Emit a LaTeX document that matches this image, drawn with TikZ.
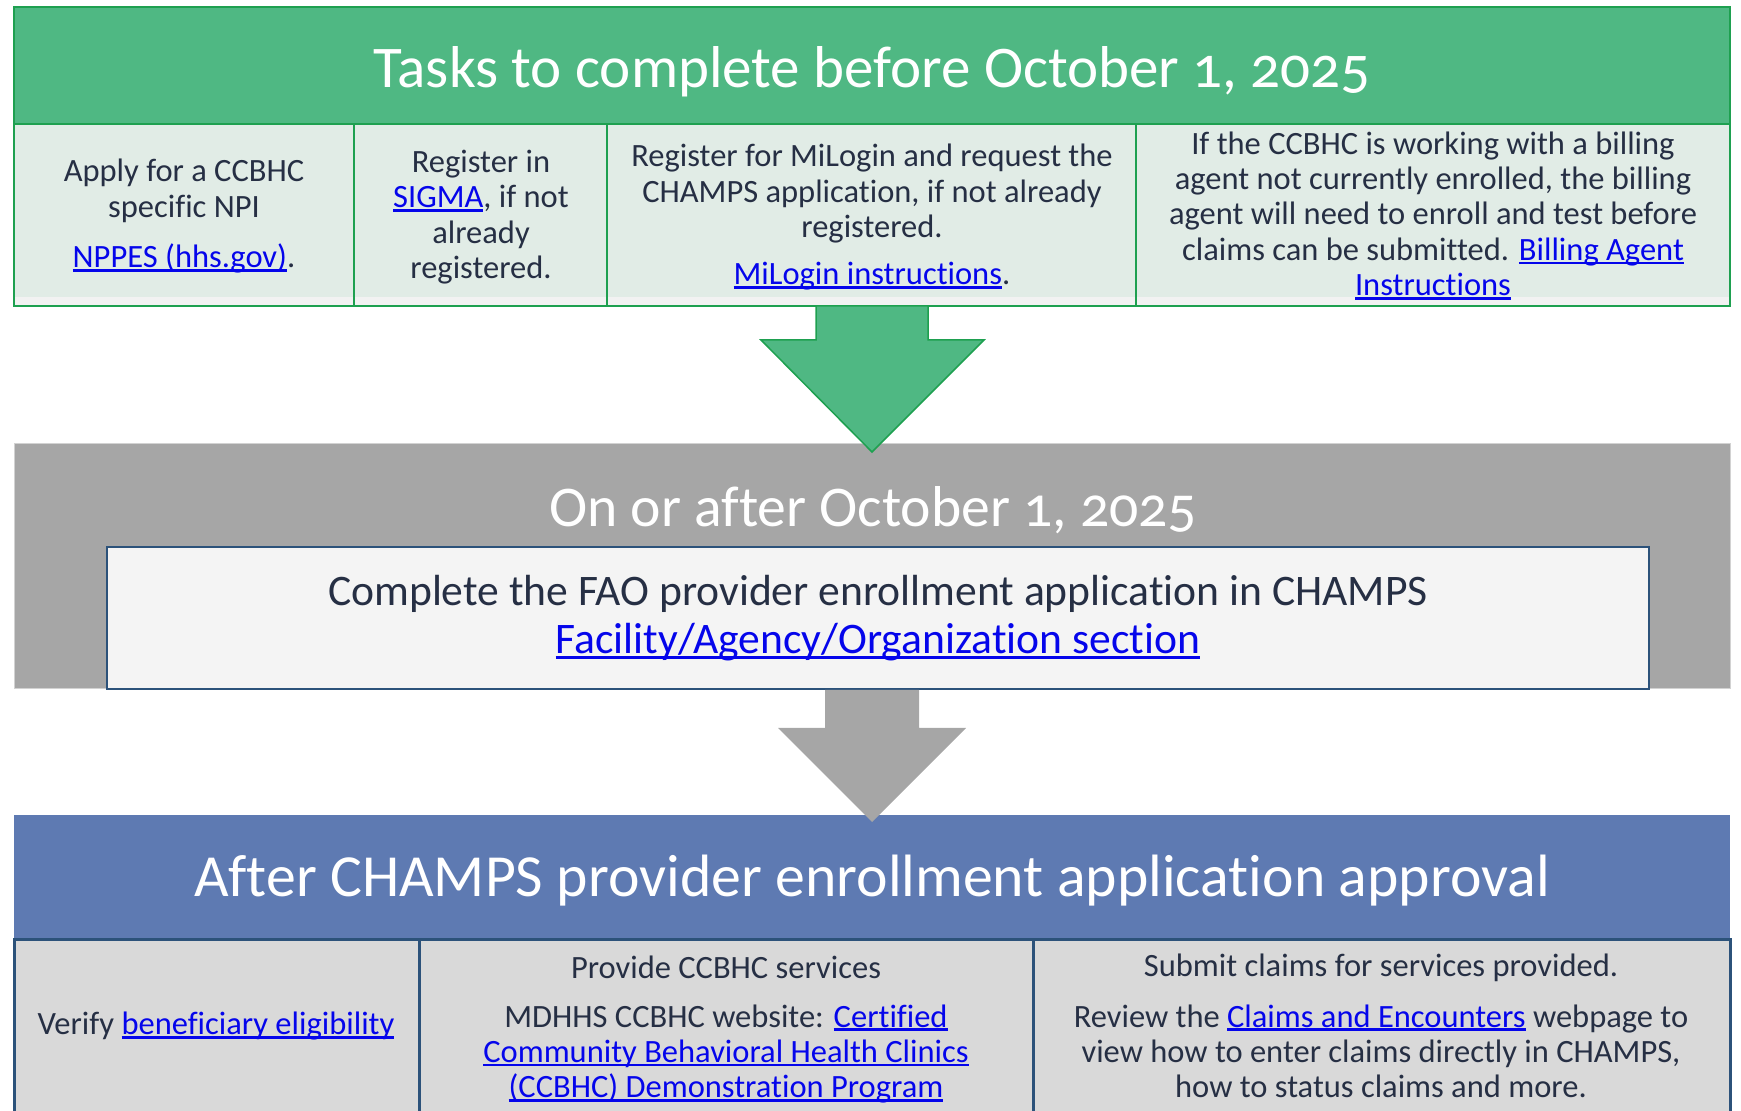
\documentclass[tikz,border=0pt]{standalone}
\usepackage{fontspec}
\setmainfont{Carlito}[Ligatures = NoCommon]
\newfontfamily\headfont{Carlito}[Numbers = OldStyle, Ligatures = NoCommon]

\definecolor{hdrgreen}{RGB}{79,184,131}
\definecolor{edgegreen}{RGB}{30,160,80}
\definecolor{cellgreen}{RGB}{225,236,230}
\definecolor{stripgray}{RGB}{242,242,242}
\definecolor{bandgray}{RGB}{166,166,166}
\definecolor{bandedge}{RGB}{210,210,210}
\definecolor{boxedge}{RGB}{44,82,122}
\definecolor{boxfill}{RGB}{244,244,244}
\definecolor{hdrblue}{RGB}{94,122,178}
\definecolor{cellgray}{RGB}{217,217,217}
\definecolor{ink}{RGB}{38,47,68}
\definecolor{linkblue}{RGB}{5,5,235}

\newcommand\smallsize{\fontsize{9.25pt}{10.1pt}\selectfont}
\newcommand\midsize{\fontsize{12.4pt}{13.7pt}\selectfont}
\newcommand\bigsize{\fontsize{16.8pt}{20pt}\selectfont}
% underlined link text
\newcommand\lnk[1]{\textcolor{linkblue}{\setbox0=\hbox{#1}\rlap{\rule[-0.11em]{\wd0}{0.07em}}\box0}}

\begin{document}
\begin{tikzpicture}[x = 0.1mm, y = -0.1mm,
  headtext/.style = {white, anchor = base, inner sep = 0pt, font = \headfont\bigsize},
  celltext/.style = {ink, align = center, anchor = base, inner sep = 0pt, font = \smallsize},
  boxtext/.style = {ink, align = center, anchor = base, inner sep = 0pt, font = \midsize}]
\useasboundingbox (0,0) rectangle (1741,1111);

% before October 1 (text nodes sit on their last baseline)
\filldraw[fill = hdrgreen, draw = edgegreen, line width = 0.15mm] (14,7) rectangle (1730,124);
\foreach \xa/\xb in {14/354, 354/607, 607/1136, 1136/1730}
{
  \fill[cellgreen] (\xa,124) rectangle (\xb,297);
  \fill[stripgray] (\xa,297) rectangle (\xb,306);
  \draw[edgegreen, line width = 0.2mm] (\xa,124) rectangle (\xb,306);
}
\node[headtext] (before) at (872,88) {Tasks to complete before October 1, 2025};
\node[celltext] (npi) at (184,268) {Apply for a CCBHC\\specific NPI\\[4.3pt]\lnk{NPPES (hhs.gov)}.};
\node[celltext] (sigma) at (481,279) {Register in\\\lnk{SIGMA}, if not\\already\\registered.};
\node[celltext] (milogin) at (872,285) {Register for MiLogin and request the\\CHAMPS application, if not already\\registered.\\[3.4pt]\lnk{MiLogin instructions}.};
\node[celltext] (agent) at (1433,296) {If the CCBHC is working with a billing\\agent not currently enrolled, the billing\\agent will need to enroll and test before\\claims can be submitted. \lnk{Billing Agent}\\\lnk{Instructions}};

% on or after October 1
\filldraw[fill = bandgray, draw = bandedge, line width = 0.1mm] (14,444) rectangle (1730,689);
\filldraw[fill = hdrgreen, draw = edgegreen, line width = 0.15mm]
  (816,306) -- (816,340) -- (761,340) -- (872,452) -- (984,340) -- (928,340) -- (928,306) -- cycle;
\node[headtext, font = \headfont\fontsize{16.4pt}{20pt}\selectfont] (after) at (873,527) {On or after October 1, 2025};
\filldraw[fill = boxfill, draw = boxedge, line width = 0.25mm] (107,547) rectangle (1649,689);
\node[boxtext] (fao) at (878,654) {Complete the FAO provider enrollment application in CHAMPS\\\lnk{Facility/Agency/Organization section}};

% after approval
\fill[hdrblue] (14,815) rectangle (1730,940);
\fill[bandgray] (825,690) -- (825,728) -- (778,728) -- (872,822) -- (966,728) -- (919,728) -- (919,690) -- cycle;
\foreach \xa/\xb in {14/419, 419/1033, 1033/1730}
{
  \filldraw[fill = cellgray, draw = boxedge, line width = 0.3mm] (\xa,940) rectangle (\xb,1130);
}
\node[headtext, font = \headfont\fontsize{17pt}{20pt}\selectfont] (approval) at (872,897) {After CHAMPS provider enrollment application approval};
\node[celltext] (verify) at (216,1035) {Verify \lnk{beneficiary eligibility}};
\node[celltext] (services) at (726,1098) {Provide CCBHC services\\[3.7pt]MDHHS CCBHC website: \lnk{Certified}\\\lnk{Community Behavioral Health Clinics}\\\lnk{(CCBHC) Demonstration Program}};
\node[celltext] (claims) at (1381,1098) {Submit claims for services provided.\\[4.3pt]Review the \lnk{Claims and Encounters} webpage to\\view how to enter claims directly in CHAMPS,\\how to status claims and more.};
\end{tikzpicture}
\end{document}
